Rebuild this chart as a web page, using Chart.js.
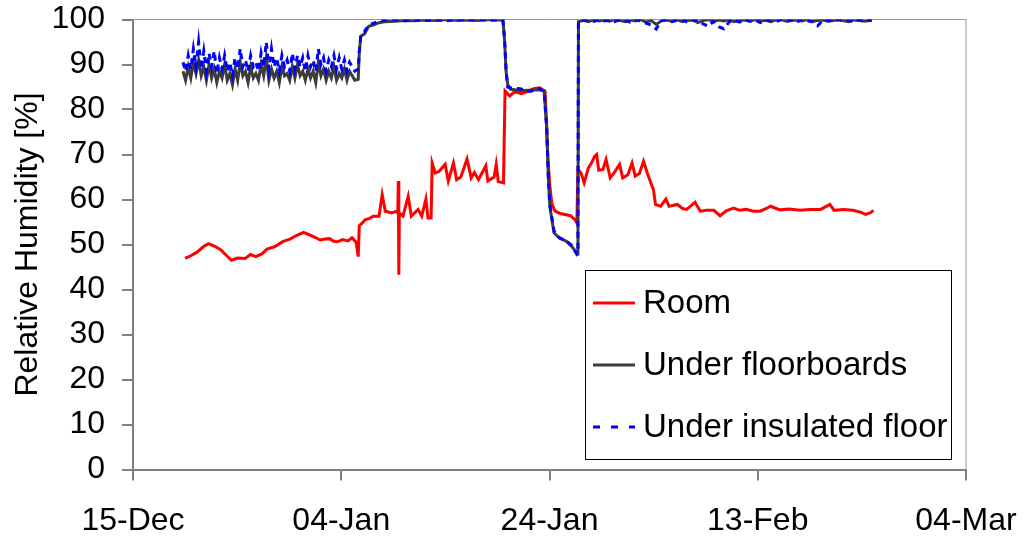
<!DOCTYPE html>
<html>
<head>
<meta charset="utf-8">
<script src="https://cdn.jsdelivr.net/npm/chart.js@4.4.1/dist/chart.umd.min.js"></script>
<style>
  html, body { margin: 0; padding: 0; background: #fff; }
  #wrap { width: 1027px; height: 538px; }
</style>
</head>
<body>
<div id="wrap"><canvas id="rhChart" width="1027" height="538"></canvas></div>
<script>
// x values are days since 15-Dec
const tickDays = [0, 20, 40, 60, 80];
const tickLabels = ['15-Dec', '04-Jan', '24-Jan', '13-Feb', '04-Mar'];
const yTicks = [0, 10, 20, 30, 40, 50, 60, 70, 80, 90, 100];

const roomDays = [5.0, 5.55, 6.15, 6.75, 7.25, 7.85, 8.45, 8.95, 9.45, 10.08, 10.78, 11.28, 11.78, 12.38, 12.88, 13.58, 14.43, 15.08, 15.68, 16.38,
  17.08, 17.58, 17.98, 18.48, 18.88, 19.28, 19.63, 20.13, 20.63, 21.03, 21.43, 21.63, 21.73, 22.03, 22.28, 22.73, 23.08, 23.63, 23.93, 24.23,
  24.83, 25.33, 25.43, 25.48, 25.53, 25.58, 25.93, 26.43, 26.73, 27.38, 27.73, 28.13, 28.33, 28.63, 28.73, 29.03, 29.38, 29.98, 30.28, 30.78,
  31.08, 31.48, 32.08, 32.48, 32.78, 33.18, 33.88, 34.08, 34.68, 34.88, 35.08, 35.58, 35.73, 36.18, 36.68, 37.28, 37.88, 38.48, 39.08, 39.58,
  39.83, 40.03, 40.23, 40.53, 41.03, 42.03, 42.43, 42.63, 42.73, 43.03, 43.33, 43.73, 44.03, 44.33, 44.53, 44.73, 45.13, 45.43, 45.83, 46.23,
  46.73, 47.03, 47.53, 47.93, 48.23, 48.63, 49.03, 49.43, 49.98, 50.18, 50.68, 51.18, 51.48, 52.28, 52.78, 53.18, 53.98, 54.48, 55.08, 55.78,
  56.38, 56.98, 57.68, 58.28, 58.88, 59.58, 60.23, 60.83, 61.23, 62.13, 63.03, 64.03, 65.03, 66.03, 66.93, 67.33, 68.23, 69.13, 69.86, 70.36,
  70.86, 71.11];
const roomRH = [46.9, 47.5, 48.3, 49.5, 50.2, 49.6, 48.8, 47.6, 46.5, 47.0, 46.9, 47.8, 47.3, 47.9, 49.0, 49.5, 50.7, 51.2, 52.0, 52.7,
  52.0, 51.5, 51.0, 51.2, 51.3, 50.7, 50.6, 51.1, 50.8, 51.5, 50.5, 47.3, 54.2, 54.8, 55.5, 55.8, 56.3, 56.3, 61.1, 57.4,
  57.0, 57.4, 57.0, 64.1, 43.3, 57.0, 56.3, 60.7, 56.3, 57.8, 56.3, 60.1, 55.9, 55.9, 68.1, 65.9, 66.2, 67.8, 64.1, 68.1,
  64.4, 65.0, 69.0, 64.8, 66.0, 64.4, 67.5, 64.1, 65.0, 67.8, 64.0, 63.7, 84.1, 83.0, 84.0, 83.5, 84.0, 84.6, 84.8, 84.0,
  70.0, 63.0, 59.0, 57.4, 56.9, 56.4, 55.5, 54.8, 66.7, 65.9, 63.7, 67.0, 68.1, 69.6, 70.0, 66.5, 66.7, 68.9, 64.8, 66.0,
  67.8, 64.8, 65.5, 68.1, 65.2, 65.8, 68.5, 65.6, 62.2, 58.9, 58.5, 60.1, 58.5, 58.9, 58.0, 57.8, 59.4, 57.4, 57.6, 57.6,
  56.4, 57.5, 58.1, 57.6, 57.8, 57.4, 57.4, 58.0, 58.5, 57.7, 57.9, 57.6, 57.8, 57.8, 58.9, 57.6, 57.8, 57.6, 57.2, 56.7,
  57.1, 57.6];

const floorDays = [4.8, 5.05, 5.3, 5.55, 5.8, 6.05, 6.3, 6.55, 6.8, 7.05, 7.3, 7.55, 7.8, 8.05, 8.3, 8.55, 8.8, 9.05, 9.3, 9.55,
  9.8, 10.05, 10.3, 10.55, 10.8, 11.05, 11.3, 11.55, 11.8, 12.05, 12.3, 12.55, 12.8, 13.05, 13.3, 13.55, 13.8, 14.05, 14.3, 14.55,
  14.8, 15.05, 15.3, 15.55, 15.8, 16.05, 16.3, 16.55, 16.8, 17.05, 17.3, 17.55, 17.8, 18.05, 18.3, 18.55, 18.8, 19.05, 19.3, 19.55,
  19.8, 20.05, 20.3, 20.55, 20.8, 21.05, 21.3,
  21.63, 21.73, 21.88, 22.23, 22.63, 23.13, 23.63, 24.13, 25.13, 26.13, 27.13, 28.13, 29.13, 30.18, 31.18, 32.18, 33.18, 34.18, 35.18, 35.53,
  35.68, 35.83, 35.98, 36.28, 37.18, 38.18, 38.98, 39.48, 39.73, 39.88, 40.03, 40.43, 40.93, 41.63, 42.13, 42.63, 42.73, 42.78,
  43.25, 43.75, 44.25, 44.75, 45.25, 45.75, 46.25, 46.75, 47.25, 47.75, 48.25, 48.75, 49.25, 49.75, 50.25, 50.75, 51.25, 51.75, 52.25, 52.75,
  53.25, 53.75, 54.25, 54.75, 55.25, 55.75, 56.25, 56.75, 57.25, 57.75, 58.25, 58.75, 59.25, 59.75, 60.25, 60.75, 61.25, 61.75, 62.25, 62.75,
  63.25, 63.75, 64.25, 64.75, 65.25, 65.75, 66.25, 66.75, 67.25, 67.75, 68.25, 68.75, 69.25, 69.75, 70.25, 70.95];
const floorRH = [88.5, 86.5, 89.5, 87.0, 90.5, 88.0, 91.0, 87.5, 89.5, 86.5, 90.0, 87.0, 89.0, 86.0, 88.5, 87.0, 90.0, 86.5, 88.0, 85.5,
  89.0, 86.5, 90.5, 87.5, 88.5, 86.0, 89.5, 87.0, 88.0, 86.5, 90.0, 87.5, 91.5, 86.5, 89.0, 87.0, 88.5, 86.0, 89.5, 87.5,
  88.0, 86.5, 89.5, 87.0, 90.0, 87.5, 88.5, 86.5, 89.0, 87.0, 88.5, 86.0, 90.5, 87.5, 89.0, 86.5, 88.5, 87.0, 89.5, 86.5,
  88.0, 87.0, 89.0, 86.5, 88.5, 87.5, 86.5,
  86.7, 92.6, 96.3, 96.8, 98.5, 98.8, 99.3, 99.5, 99.6, 99.8, 99.7, 99.9, 99.8, 100, 99.8, 99.9, 99.8, 100, 99.9, 99.8,
  95.6, 88.5, 85.6, 84.5, 84.2, 84.3, 84.4, 84.2, 76.3, 65.2, 58.5, 52.6, 51.5, 50.7, 49.6, 48.1, 48.0, 99.5,
  99.8, 99.5, 100, 99.7, 99.9, 99.6, 100, 99.8, 99.5, 99.9, 99.7, 100, 99.4, 99.8, 98.9, 99.7, 99.9, 99.6, 100, 99.5,
  99.8, 99.9, 99.3, 99.8, 100, 99.6, 99.9, 99.7, 100, 99.5, 99.8, 99.9, 99.6, 100, 99.7, 99.8, 99.5, 99.9, 100, 99.6,
  99.8, 99.9, 99.7, 100, 99.5, 99.8, 99.9, 99.6, 99.8, 100, 99.7, 99.5, 99.9, 99.8, 99.6, 99.9];
const insulRH = [90.5, 88.5, 92.0, 89.0, 93.5, 89.5, 95.0, 89.0, 93.0, 88.5, 92.5, 89.5, 93.0, 88.0, 91.5, 89.0, 92.0, 88.5, 90.5, 87.5,
  91.5, 89.0, 93.5, 89.5, 91.0, 88.5, 92.0, 89.5, 90.5, 88.5, 92.5, 89.5, 95.0, 89.0, 93.5, 89.5, 91.5, 88.5, 92.0, 89.5,
  91.0, 88.5, 92.5, 89.0, 92.0, 89.5, 91.5, 88.5, 92.0, 89.5, 91.0, 88.5, 93.5, 90.0, 91.5, 88.5, 91.0, 89.5, 92.0, 89.0,
  91.5, 89.0, 91.0, 88.5, 90.5, 89.5, 88.5,
  89.0, 93.0, 96.5, 97.3, 98.8, 99.2, 99.6, 99.8, 100, 99.7, 100, 99.8, 100, 99.7, 100, 99.9, 100, 99.8, 99.9, 99.7,
  96.0, 88.5, 85.0, 84.8, 84.6, 84.0, 84.7, 84.0, 76.0, 65.5, 59.0, 53.0, 51.5, 50.8, 49.8, 47.8, 48.0, 99.5,
  99.8, 100, 99.6, 100, 99.7, 99.9, 99.5, 100, 99.8, 99.4, 100, 99.7, 99.2, 98.8, 97.9, 99.7, 100, 99.5, 99.8, 100,
  99.4, 99.8, 100, 99.0, 98.5, 99.6, 98.4, 97.9, 99.5, 99.9, 99.4, 100, 99.6, 99.9, 99.3, 100, 99.7, 99.5, 100, 99.6,
  99.9, 99.4, 100, 99.7, 99.5, 98.6, 99.8, 99.9, 99.5, 100, 99.6, 99.8, 99.4, 100, 99.6, 99.9];

const toXY = (xs, ys) => xs.map((x, i) => ({ x: x, y: ys[i] }));
const FONT = '"Liberation Sans", Arial, sans-serif';

// thin frame on the top and right of the plot area
const plotFrame = {
  id: 'plotFrame',
  beforeDatasetsDraw(chart) {
    const { ctx, chartArea: a } = chart;
    ctx.save();
    ctx.strokeStyle = '#9a9a9a';
    ctx.lineWidth = 1;
    ctx.beginPath();
    ctx.moveTo(a.left, a.top);
    ctx.lineTo(a.right, a.top);
    ctx.lineTo(a.right, a.bottom);
    ctx.stroke();
    ctx.restore();
  }
};

// legend drawn inside the plot, boxed, like the original
const boxLegend = {
  id: 'boxLegend',
  afterDraw(chart) {
    const c = chart.ctx;
    const left = 585, top = 270, right = 952, bottom = 460;
    c.save();
    c.fillStyle = '#fff';
    c.fillRect(left, top, right - left, bottom - top);
    c.strokeStyle = '#000';
    c.lineWidth = 1;
    c.strokeRect(left + 0.5, top + 0.5, right - left - 1, bottom - top - 1);
    c.font = '33px ' + FONT;
    c.textBaseline = 'middle';
    chart.data.datasets.forEach((ds, i) => {
      const y = 303 + i * 62;
      c.beginPath();
      c.strokeStyle = ds.borderColor;
      c.lineWidth = 3;
      c.setLineDash(i === 2 ? [7, 11] : []);
      c.moveTo(593, y);
      c.lineTo(635, y);
      c.stroke();
      c.setLineDash([]);
      c.fillStyle = '#000';
      c.fillText(ds.label, 643, y + 1);
    });
    c.restore();
  }
};

const noScalePadding = (axis) => {
  axis.paddingLeft = 0; axis.paddingRight = 0;
  axis.paddingTop = 0; axis.paddingBottom = 0;
};

new Chart(document.getElementById('rhChart'), {
  type: 'line',
  data: {
    datasets: [
      {
        label: 'Room',
        data: toXY(roomDays, roomRH),
        borderColor: '#ff0000',
        borderWidth: 3,
        order: 3
      },
      {
        label: 'Under floorboards',
        data: toXY(floorDays, floorRH),
        borderColor: '#3c3c3c',
        borderWidth: 3,
        order: 2
      },
      {
        label: 'Under insulated floor',
        data: toXY(floorDays, insulRH),
        borderColor: '#0000ff',
        borderWidth: 3,
        borderDash: [6, 5],
        order: 1
      }
    ]
  },
  options: {
    responsive: false,
    animation: false,
    events: [],
    layout: { padding: { left: 0, right: 61, top: 19.5, bottom: 0 } },
    elements: { point: { radius: 0 }, line: { tension: 0 } },
    plugins: { legend: { display: false }, tooltip: { enabled: false } },
    scales: {
      x: {
        type: 'linear',
        min: 0,
        max: 80,
        afterBuildTicks: (axis) => { axis.ticks = tickDays.map(v => ({ value: v })); },
        afterFit: (axis) => { axis.height = 68.5; noScalePadding(axis); },
        ticks: {
          color: '#000',
          font: { family: FONT, size: 32 },
          padding: 21,
          maxRotation: 0,
          callback: (v) => tickLabels[tickDays.indexOf(v)]
        },
        grid: { drawOnChartArea: false, drawTicks: true, tickLength: 11, color: '#808080', lineWidth: 2 },
        border: { display: true, color: '#808080', width: 2 }
      },
      y: {
        min: 0,
        max: 100,
        afterBuildTicks: (axis) => { axis.ticks = yTicks.map(v => ({ value: v })); },
        afterFit: (axis) => { axis.width = 133; noScalePadding(axis); },
        ticks: {
          color: '#000',
          font: { family: FONT, size: 32 },
          padding: 17
        },
        title: {
          display: true,
          text: 'Relative Humidity [%]',
          color: '#000',
          font: { family: FONT, size: 32 },
          padding: { top: 9, bottom: 0 }
        },
        grid: { drawOnChartArea: false, drawTicks: true, tickLength: 11, color: '#808080', lineWidth: 2 },
        border: { display: true, color: '#808080', width: 2 }
      }
    }
  },
  plugins: [plotFrame, boxLegend]
});
</script>
</body>
</html>
